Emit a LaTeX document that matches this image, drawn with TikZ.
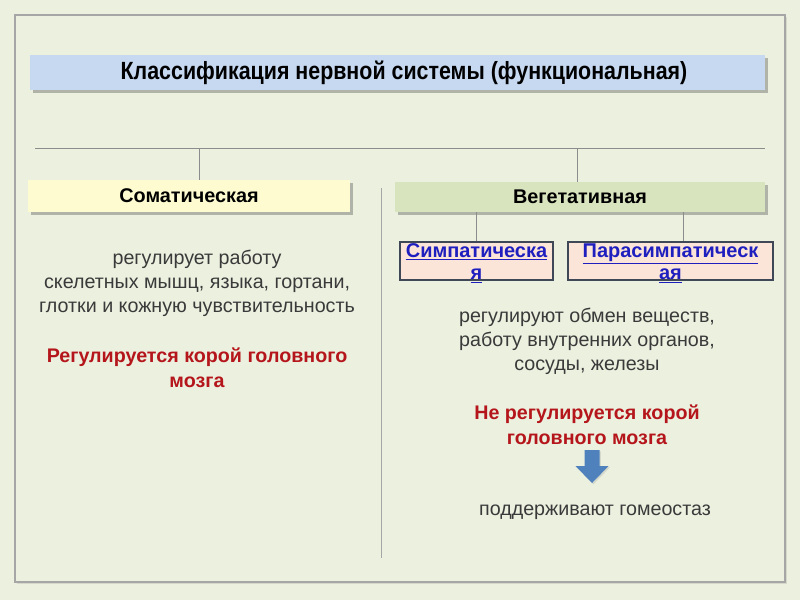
\documentclass[tikz,border=0pt]{standalone}
\usepackage{fontspec}
\setmainfont{Liberation Sans}
\newfontfamily\titlefont[FakeStretch=0.86]{Liberation Sans Bold}
\usepackage{xcolor}
\usetikzlibrary{positioning,calc,shadows}

\definecolor{bgGreen}{HTML}{EBF0DF}
\definecolor{frameGray}{HTML}{A6A6A6}
\definecolor{titleBlue}{HTML}{C6D9F1}
\definecolor{somaYellow}{HTML}{FDFBCF}
\definecolor{vegOlive}{HTML}{D8E4BE}
\definecolor{subPink}{HTML}{FBE5D8}
\definecolor{subBorder}{HTML}{3E4856}
\definecolor{linkBlue}{HTML}{1F1FBF}
\definecolor{darkRed}{HTML}{B5161B}
\definecolor{bodyGray}{HTML}{3A3A3A}
\definecolor{arrowBlue}{HTML}{4F81BD}

\tikzset{
    headbox/.style={draw=none, inner sep=0pt,
        drop shadow={shadow xshift=2pt, shadow yshift=-2pt, fill=black, opacity=0.25},
        font=\fontsize{14.1}{16}\selectfont\bfseries},
    subbox/.style={draw=subBorder, line width=1.4pt, fill=subPink, inner sep=0pt,
        align=center, text=linkBlue, font=\fontsize{14.2}{15}\selectfont\bfseries},
    bodytext/.style={align=center, text=bodyGray, font=\fontsize{14}{17}\selectfont},
    redtext/.style={align=center, text=darkRed, font=\fontsize{14}{17.5}\selectfont\bfseries},
    tree/.style={draw=gray!90, line width=0.6pt}
}

\begin{document}
\begin{tikzpicture}[x=0.025cm,y=-0.025cm]
        % background and frame
        \fill[bgGreen] (0,0) rectangle (800,600);
        \useasboundingbox (0,0) rectangle (800,600);
        \draw[frameGray, fill=bgGreen, line width=0.8pt,
            drop shadow={shadow xshift=1.5pt, shadow yshift=-1.5pt, opacity=0.2}]
            (15,15) rectangle (785,582);

        % title
        \node[headbox, fill=titleBlue, minimum width=18.375cm, minimum height=0.875cm] (title) at (397.5,72.5) {};
        \node[font=\titlefont\fontsize{17.7}{19}\selectfont, inner sep=0pt] (titleText) at (404,72.5)
            {Классификация нервной системы (функциональная)};

        % two main groups
        \node[headbox, fill=somaYellow, minimum width=8.05cm, minimum height=0.8cm] (soma) at (189,196) {Соматическая};
        \node[headbox, fill=vegOlive, minimum width=9.25cm, minimum height=0.75cm] (veg) at (580,197) {Вегетативная};

        % tree lines
        \coordinate (busL) at (35,148);
        \coordinate (busR) at (765,148);
        \coordinate (dropS) at (199,148);
        \coordinate (dropV) at (577,148);
        \draw[tree] (busL) -- (busR);
        \draw[tree] (dropS) -- (dropS |- soma.north);
        \draw[tree] (dropV) -- (dropV |- veg.north);

        % divider
        \coordinate (divTop) at (381,188);
        \coordinate (divBot) at (381,558);
        \draw[gray!70, line width=0.6pt] (divTop) -- (divBot);

        % sub-divisions of the vegetative system
        \node[subbox, minimum width=3.825cm, minimum height=0.95cm] (symp) at (476.5,261) {};
        \node[subbox, minimum width=5.1cm, minimum height=0.95cm] (para) at (670.5,261) {};
        \node[subbox, draw=none, fill=none] (sympText) at (476.5,263)
            {\underline{Симпатическа}\\[1pt]\underline{я}};
        \node[subbox, draw=none, fill=none] (paraText) at (670.5,263)
            {\underline{Парасимпатическ}\\[1pt]\underline{ая}};
        \coordinate (dropP) at (683,212);
        \draw[tree] (symp.north) -- (symp.north |- veg.south);
        \draw[tree] (dropP |- veg.south) -- (dropP |- para.north);

        % somatic texts
        \node[bodytext] (somaText) at (197,283)
            {регулирует работу\\скелетных мышц, языка, гортани,\\глотки и кожную чувствительность};
        \node[redtext] (somaCtrl) at (197,368) {Регулируется корой головного\\мозга};

        % vegetative texts
        \node[bodytext] (vegText) at (587,341)
            {регулируют обмен веществ,\\работу внутренних органов,\\сосуды, железы};
        \node[redtext] (vegCtrl) at (587,424.5) {Не регулируется корой\\головного мозга};

        % down arrow
        \coordinate (arrTop) at (592,450);
        \fill[arrowBlue, drop shadow={shadow xshift=1pt, shadow yshift=-1pt, opacity=0.2}]
            ($(arrTop)+(-7.5,0)$) -- ($(arrTop)+(7.5,0)$) -- ($(arrTop)+(7.5,16)$) -- ($(arrTop)+(16.5,16)$)
            -- ($(arrTop)+(0,33)$) -- ($(arrTop)+(-16.5,16)$) -- ($(arrTop)+(-7.5,16)$) -- cycle;

        \node[bodytext] (homeo) at (595,512) {поддерживают гомеостаз};
\end{tikzpicture}
\end{document}
